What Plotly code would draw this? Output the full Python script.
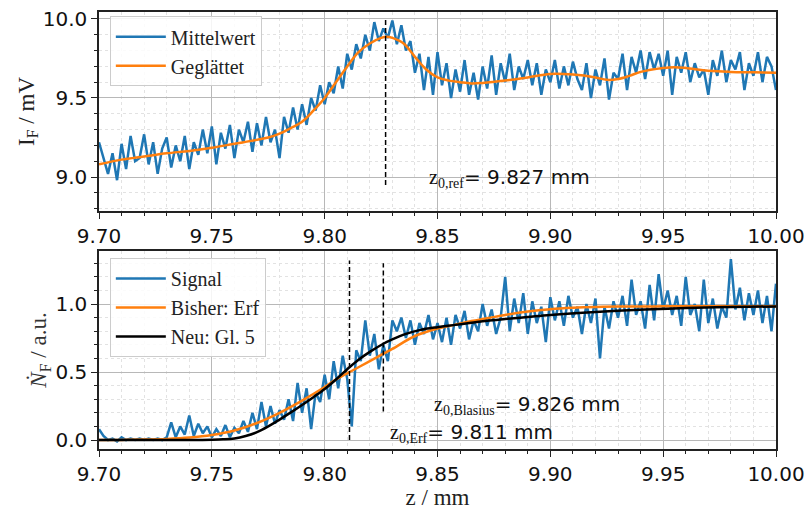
import plotly.graph_objects as go

# ---------------- data ----------------
# sampling positions of the measured signals (mm)
z_sig = [round(9.70 + 0.002 * i, 3) for i in range(151)]

mittelwert = [
    9.22, 9.12, 9.02, 9.15, 8.98, 9.21, 9.05, 9.26, 9.10, 9.12,
    9.27, 9.08, 9.22, 9.02, 9.18, 9.25, 9.06, 9.20, 9.10, 9.26,
    9.05, 9.22, 9.14, 9.30, 9.15, 9.32, 9.08, 9.28, 9.18, 9.33,
    9.12, 9.30, 9.22, 9.35, 9.16, 9.34, 9.20, 9.38, 9.22, 9.30,
    9.12, 9.38, 9.28, 9.44, 9.30, 9.46, 9.33, 9.50, 9.42, 9.58,
    9.46, 9.60, 9.53, 9.70, 9.56, 9.78, 9.68, 9.84, 9.75, 9.90,
    9.80, 9.98, 9.86, 9.94, 9.88, 9.99, 9.84, 9.96, 9.80, 9.86,
    9.66, 9.78, 9.55, 9.76, 9.52, 9.79, 9.58, 9.72, 9.50, 9.68,
    9.54, 9.74, 9.52, 9.66, 9.49, 9.70, 9.56, 9.77, 9.52, 9.72,
    9.60, 9.78, 9.55, 9.70, 9.62, 9.74, 9.58, 9.72, 9.52, 9.68,
    9.60, 9.74, 9.56, 9.70, 9.58, 9.73, 9.62, 9.55, 9.72, 9.50,
    9.68, 9.58, 9.75, 9.49, 9.66, 9.62, 9.78, 9.55, 9.76, 9.66,
    9.80, 9.62, 9.79, 9.68, 9.78, 9.64, 9.80, 9.52, 9.76, 9.66,
    9.79, 9.60, 9.72, 9.63, 9.68, 9.52, 9.74, 9.64, 9.80, 9.60,
    9.74, 9.68, 9.79, 9.55, 9.72, 9.64, 9.79, 9.60, 9.76, 9.70,
    9.55,
]

z_glatt = [9.700, 9.710, 9.720, 9.730, 9.740, 9.750, 9.760, 9.770, 9.775, 9.780,
           9.785, 9.790, 9.795, 9.800, 9.805, 9.810, 9.815, 9.820, 9.825, 9.8275,
           9.830, 9.835, 9.840, 9.845, 9.850, 9.855, 9.860, 9.865, 9.870, 9.880,
           9.890, 9.900, 9.910, 9.920, 9.925, 9.930, 9.935, 9.940, 9.950, 9.955,
           9.960, 9.970, 9.980, 9.990, 10.000]
geglaettet = [9.08, 9.11, 9.13, 9.15, 9.165, 9.185, 9.21, 9.235, 9.25, 9.275,
              9.31, 9.35, 9.42, 9.50, 9.60, 9.70, 9.79, 9.845, 9.88, 9.888,
              9.88, 9.845, 9.76, 9.68, 9.63, 9.61, 9.60, 9.592, 9.595, 9.61,
              9.63, 9.652, 9.648, 9.63, 9.615, 9.62, 9.64, 9.665, 9.69, 9.695,
              9.69, 9.672, 9.665, 9.663, 9.66]

signal = [
    0.08, 0.03, 0.00, 0.01, -0.01, 0.02, 0.00, 0.01, 0.00, 0.01,
    0.00, 0.01, 0.00, 0.01, 0.00, 0.02, 0.13, 0.02, 0.10, 0.04,
    0.18, 0.03, 0.12, 0.05, 0.10, 0.02, 0.08, 0.03, 0.11, 0.02,
    0.09, 0.05, 0.14, 0.06, 0.20, 0.08, 0.28, 0.10, 0.25, 0.12,
    0.22, 0.15, 0.30, 0.14, 0.42, 0.20, 0.38, 0.08, 0.35, 0.28,
    0.48, 0.30, 0.58, 0.38, 0.62, 0.45, 0.10, 0.66, 0.58, 0.88,
    0.62, 0.78, 0.52, 0.70, 0.58, 0.88, 0.80, 0.90, 0.75, 0.88,
    0.70, 0.86, 0.78, 0.92, 0.74, 0.86, 0.72, 0.90, 0.70, 0.92,
    0.82, 0.95, 0.74, 0.88, 0.80, 1.00, 0.84, 0.96, 0.78, 0.90,
    1.20, 0.80, 1.04, 0.86, 1.08, 0.78, 1.02, 0.86, 0.98, 0.72,
    1.05, 0.88, 1.02, 0.84, 1.06, 0.90, 0.98, 0.78, 1.00, 0.86,
    1.04, 0.60, 0.98, 0.82, 1.02, 0.90, 1.06, 0.84, 1.18, 0.92,
    1.02, 0.82, 1.14, 0.88, 1.22, 0.96, 1.10, 0.92, 1.06, 0.84,
    1.20, 0.92, 1.00, 0.80, 1.18, 0.86, 1.04, 0.82, 0.98, 0.90,
    1.33, 0.96, 1.12, 0.88, 1.08, 0.92, 1.10, 0.86, 1.06, 0.80,
    1.15,
]

z_erf = [9.700, 9.710, 9.720, 9.730, 9.740, 9.750, 9.760, 9.770, 9.780, 9.790,
         9.800, 9.805, 9.811, 9.815, 9.820, 9.826, 9.830, 9.840, 9.850, 9.857,
         9.865, 9.872, 9.880, 9.890, 9.900, 9.910, 9.920, 9.930, 9.950, 9.975,
         10.000]
erf_fit = [0.000, 0.001, 0.003, 0.008, 0.018, 0.037, 0.070, 0.125, 0.200, 0.290,
           0.390, 0.445, 0.500, 0.535, 0.580, 0.635, 0.670, 0.765, 0.820, 0.845,
           0.875, 0.895, 0.920, 0.945, 0.962, 0.972, 0.978, 0.981, 0.983, 0.984,
           0.984]

z_gl5 = [9.700, 9.740, 9.750, 9.755, 9.760, 9.765, 9.770, 9.775, 9.780, 9.785,
         9.790, 9.795, 9.800, 9.805, 9.811, 9.815, 9.820, 9.826, 9.830, 9.835,
         9.842, 9.850, 9.857, 9.865, 9.872, 9.880, 9.890, 9.900, 9.920, 9.942,
         9.960, 9.980, 10.000]
gl5_fit = [0.000, 0.000, 0.002, 0.005, 0.012, 0.030, 0.058, 0.100, 0.150, 0.203,
           0.258, 0.315, 0.375, 0.445, 0.535, 0.590, 0.648, 0.708, 0.740, 0.775,
           0.808, 0.830, 0.845, 0.862, 0.877, 0.890, 0.905, 0.920, 0.942, 0.960,
           0.970, 0.978, 0.982]

z_ref = 9.827
z_blasius = 9.826
z_erf0 = 9.811

x_ticks = [9.70, 9.75, 9.80, 9.85, 9.90, 9.95, 10.00]
x_tick_labels = ["9.70", "9.75", "9.80", "9.85", "9.90", "9.95", "10.00"]
y1_ticks = [9.0, 9.5, 10.0]
y1_tick_labels = ["9.0", "9.5", "10.0"]
y2_ticks = [0.0, 0.5, 1.0]
y2_tick_labels = ["0.0", "0.5", "1.0"]

# ---------------- styling ----------------
BLUE = "#1f77b4"
ORANGE = "#ff7f0e"
SANS = "DejaVu Sans"
SERIF = "Liberation Serif"
TICKFONT = dict(family=SANS, size=20, color="#111111")
LABELFONT = dict(family=SERIF, size=23, color="#222222")
LEGFONT = dict(family=SERIF, size=20, color="#222222")
ANNFONT = dict(family=SANS, size=20, color="#111111")

fig = go.Figure()

fig.add_trace(go.Scatter(x=z_sig, y=mittelwert, mode="lines", name="Mittelwert",
                         line=dict(color=BLUE, width=2.5), xaxis="x", yaxis="y",
                         legend="legend"))
fig.add_trace(go.Scatter(x=z_glatt, y=geglaettet, mode="lines", name="Geglättet",
                         line=dict(color=ORANGE, width=2.5, shape="spline"),
                         xaxis="x", yaxis="y", legend="legend"))

fig.add_trace(go.Scatter(x=z_sig, y=signal, mode="lines", name="Signal",
                         line=dict(color=BLUE, width=2.5), xaxis="x2", yaxis="y2",
                         legend="legend2"))
fig.add_trace(go.Scatter(x=z_erf, y=erf_fit, mode="lines", name="Bisher: Erf",
                         line=dict(color=ORANGE, width=2.5, shape="spline"),
                         xaxis="x2", yaxis="y2", legend="legend2"))
fig.add_trace(go.Scatter(x=z_gl5, y=gl5_fit, mode="lines", name="Neu: Gl. 5",
                         line=dict(color="black", width=2.5, shape="spline"),
                         xaxis="x2", yaxis="y2", legend="legend2"))

# vertical dashed marker lines
DASH = dict(color="black", width=1.5, dash="5px,3px")
fig.add_shape(type="line", xref="x", yref="y", x0=z_ref, x1=z_ref, y0=8.95, y1=9.995, line=DASH)
fig.add_shape(type="line", xref="x2", yref="y2", x0=z_erf0, x1=z_erf0, y0=0.0, y1=1.32, line=DASH)
fig.add_shape(type="line", xref="x2", yref="y2", x0=z_blasius, x1=z_blasius, y0=0.21, y1=1.30, line=DASH)

def serif(t):
    return f"<span style=\"font-family:'{SERIF}'\">{t}</span>"

fig.add_annotation(xref="x", yref="y", x=9.8453, y=8.994, xanchor="left", yanchor="middle",
                   showarrow=False, font=ANNFONT,
                   text=serif("z<sub>0,ref</sub>") + f"= {z_ref:.3f} mm")
fig.add_annotation(xref="x2", yref="y2", x=9.8475, y=0.257, xanchor="left", yanchor="middle",
                   showarrow=False, font=ANNFONT,
                   text=serif("z<sub>0,Blasius</sub>") + f"= {z_blasius:.3f} mm")
fig.add_annotation(xref="x2", yref="y2", x=9.828, y=0.05, xanchor="left", yanchor="middle",
                   showarrow=False, font=ANNFONT,
                   text=serif("z<sub>0,Erf</sub>") + f"= {z_erf0:.3f} mm")

xaxis_common = dict(
    range=[9.70, 10.00], tickmode="array", tickvals=x_ticks, ticktext=x_tick_labels,
    ticks="outside", ticklen=6, tickwidth=1.2, tickcolor="#222", tickfont=TICKFONT,
    showline=True, linecolor="#222", linewidth=1.5, mirror=True, automargin=False,
    showgrid=True, gridcolor="#b8b8b8", gridwidth=1.2, zeroline=False,
    minor=dict(dtick=0.01, tick0=9.70, ticks="outside", ticklen=3, tickcolor="#222",
               showgrid=True, gridcolor="#e2e2e2", griddash="dot", gridwidth=1),
)
yaxis_common = dict(
    ticks="outside", ticklen=6, tickwidth=1.2, tickcolor="#222", tickfont=TICKFONT,
    showline=True, linecolor="#222", linewidth=1.5, mirror=True, automargin=False,
    showgrid=True, gridcolor="#b8b8b8", gridwidth=1.2, zeroline=False,
    tickmode="array",
)

fig.update_layout(
    width=807, height=510,
    margin=dict(l=99, r=31, t=12, b=61, autoexpand=False),
    paper_bgcolor="white", plot_bgcolor="white",
    font=dict(family=SANS, size=17, color="#111111"),
    xaxis=dict(**xaxis_common, domain=[0, 1], anchor="y"),
    yaxis=dict(**yaxis_common, domain=[0.5446, 1.0], anchor="x",
               range=[8.785, 10.044], tickvals=y1_ticks, ticktext=y1_tick_labels,
               minor=dict(dtick=0.1, tick0=9.0, ticks="outside", ticklen=3, tickcolor="#222",
                          showgrid=True, gridcolor="#e2e2e2", griddash="dot", gridwidth=1),
               title=dict(text="I<sub>F</sub> / mV", font=LABELFONT, standoff=2)),
    xaxis2=dict(**xaxis_common, domain=[0, 1], anchor="y2",
                title=dict(text="z / mm", font=LABELFONT, standoff=8)),
    yaxis2=dict(**yaxis_common, domain=[0.0, 0.4531], anchor="x2",
                range=[-0.066, 1.39], tickvals=y2_ticks, ticktext=y2_tick_labels,
                minor=dict(dtick=0.1, tick0=0.0, ticks="outside", ticklen=3, tickcolor="#222",
                           showgrid=True, gridcolor="#e2e2e2", griddash="dot", gridwidth=1),
                title=dict(text="<i>Ṅ</i><sub>F</sub> / a.u.",
                           font=dict(family=SERIF, size=23, color="#333"), standoff=2)),
    legend=dict(x=0.016, y=0.99, xanchor="left", yanchor="top", itemwidth=50,
                entrywidth=170, entrywidthmode="pixels",
                bgcolor="rgba(255,255,255,0.85)", bordercolor="#cccccc", borderwidth=1,
                font=LEGFONT, tracegroupgap=0),
    legend2=dict(x=0.016, y=0.437, xanchor="left", yanchor="top", itemwidth=50,
                 entrywidth=170, entrywidthmode="pixels",
                 bgcolor="rgba(255,255,255,0.85)", bordercolor="#cccccc", borderwidth=1,
                 font=LEGFONT, tracegroupgap=0),
    showlegend=True,
)

fig.write_html("out.html")
